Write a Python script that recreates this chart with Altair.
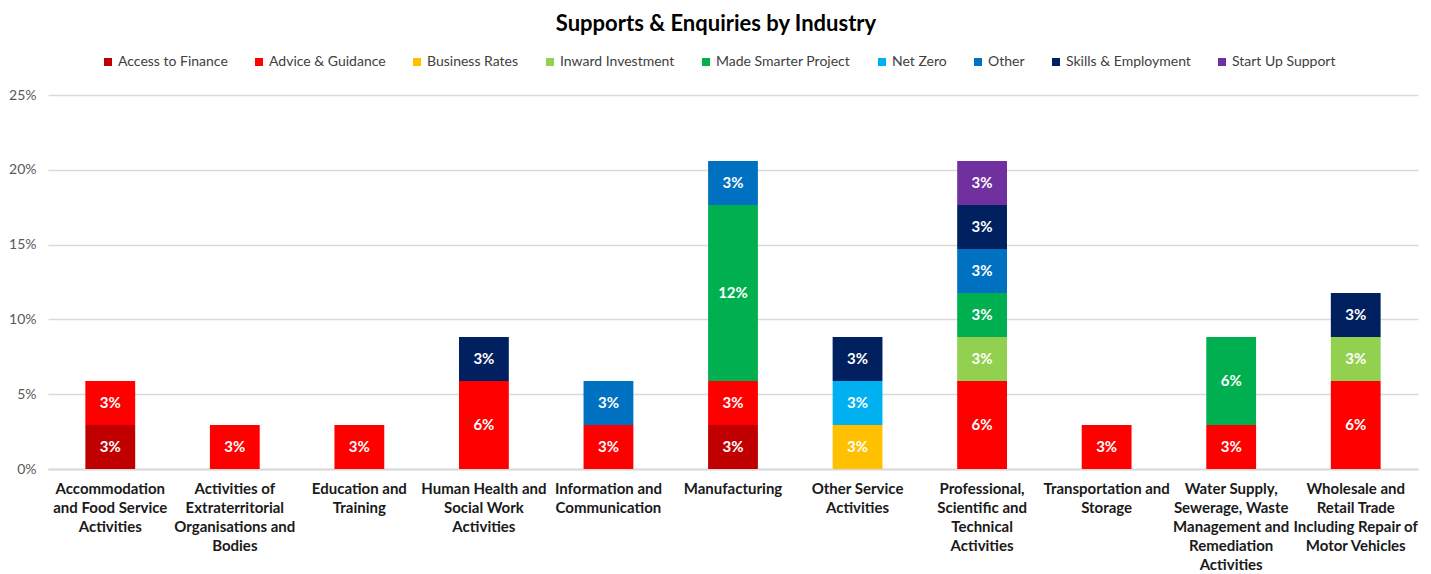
import altair as alt
import pandas as pd

CATEGORIES = [
    "Accommodation and Food Service Activities",
    "Activities of Extraterritorial Organisations and Bodies",
    "Education and Training",
    "Human Health and Social Work Activities",
    "Information and Communication",
    "Manufacturing",
    "Other Service Activities",
    "Professional, Scientific and Technical Activities",
    "Transportation and Storage",
    "Water Supply, Sewerage, Waste Management and Remediation Activities",
    "Wholesale and Retail Trade Including Repair of Motor Vehicles",
]
LABEL_LINES = [
    ["Accommodation", "and Food Service", "Activities"],
    ["Activities of", "Extraterritorial", "Organisations and", "Bodies"],
    ["Education and", "Training"],
    ["Human Health and", "Social Work", "Activities"],
    ["Information and", "Communication"],
    ["Manufacturing"],
    ["Other Service", "Activities"],
    ["Professional,", "Scientific and", "Technical", "Activities"],
    ["Transportation and", "Storage"],
    ["Water Supply,", "Sewerage, Waste", "Management and", "Remediation", "Activities"],
    ["Wholesale and", "Retail Trade", "Including Repair of", "Motor Vehicles"],
]
SERIES = [
    "Access to Finance", "Advice & Guidance", "Business Rates", "Inward Investment",
    "Made Smarter Project", "Net Zero", "Other", "Skills & Employment", "Start Up Support",
]
COLORS = ["#C00000", "#FF0000", "#FFC000", "#92D050", "#00B050",
          "#00B0F0", "#0070C0", "#002060", "#7030A0"]

# share of all supports (%) per category, one list per series
ACCESS_TO_FINANCE = [2.94, 0, 0, 0, 0, 2.94, 0, 0, 0, 0, 0]
ADVICE_GUIDANCE = [2.94, 2.94, 2.94, 5.88, 2.94, 2.94, 0, 5.88, 2.94, 2.94, 5.88]
BUSINESS_RATES = [0, 0, 0, 0, 0, 0, 2.94, 0, 0, 0, 0]
INWARD_INVESTMENT = [0, 0, 0, 0, 0, 0, 0, 2.94, 0, 0, 2.94]
MADE_SMARTER = [0, 0, 0, 0, 0, 11.76, 0, 2.94, 0, 5.88, 0]
NET_ZERO = [0, 0, 0, 0, 0, 0, 2.94, 0, 0, 0, 0]
OTHER = [0, 0, 0, 0, 2.94, 2.94, 0, 2.94, 0, 0, 0]
SKILLS_EMPLOYMENT = [0, 0, 0, 2.94, 0, 0, 2.94, 2.94, 0, 0, 2.94]
START_UP = [0, 0, 0, 0, 0, 0, 0, 2.94, 0, 0, 0]

SERIES_VALUES = [ACCESS_TO_FINANCE, ADVICE_GUIDANCE, BUSINESS_RATES, INWARD_INVESTMENT,
                 MADE_SMARTER, NET_ZERO, OTHER, SKILLS_EMPLOYMENT, START_UP]

Y_TICKS = [0, 0.05, 0.10, 0.15, 0.20, 0.25]

keys = ["|".join(lines) for lines in LABEL_LINES]
rows = []
for si, (s, vals) in enumerate(zip(SERIES, SERIES_VALUES)):
    for ci, v in enumerate(vals):
        if v > 0:
            rows.append({"cat": keys[ci], "series": s, "value": v / 100.0, "ord": si})
df = pd.DataFrame(rows)

FONT = "Lato"

base = alt.Chart(df).transform_stack(
    stack="value", groupby=["cat"], as_=["y0", "y1"],
    sort=[alt.SortField("ord", order="ascending")],
)

x_enc = alt.X(
    "cat:N", sort=keys, title=None,
    scale=alt.Scale(paddingInner=0.6, paddingOuter=0.3),
    axis=alt.Axis(
        labelExpr="split(datum.label, '|')", labelAngle=0, labelFontSize=15,
        labelFontWeight="bold", labelColor="#1a1a1a", labelLineHeight=19,
        labelPadding=12, labelLimit=300, labelOverlap=False, ticks=False,
        domainColor="#D9D9D9", domainWidth=2, labelFont=FONT,
    ),
)

bars = base.mark_bar().encode(
    x=x_enc,
    y=alt.Y("y0:Q", title=None,
            scale=alt.Scale(domain=[0, 0.25], nice=False),
            axis=alt.Axis(values=Y_TICKS, format=".0%", labelFontSize=14,
                          labelColor="#595959", labelPadding=12, ticks=False,
                          domain=False, gridColor="#D9D9D9", gridWidth=1.3,
                          labelFont=FONT)),
    y2="y1:Q",
    color=alt.Color("series:N", sort=SERIES,
                    scale=alt.Scale(domain=SERIES, range=COLORS),
                    legend=alt.Legend(
                        title=None, orient="none", legendX=53, legendY=-40,
                        direction="horizontal", columns=9, symbolType="square",
                        symbolSize=64, symbolStrokeWidth=0, labelFontSize=14,
                        labelColor="#404040", labelFont=FONT, columnPadding=24,
                        labelOffset=3)),
)

texts = base.transform_calculate(mid="(datum.y0 + datum.y1) / 2").mark_text(
    color="white", fontWeight="bold", fontSize=15, font=FONT, baseline="middle"
).encode(
    x=alt.X("cat:N", sort=keys),
    y="mid:Q",
    text=alt.Text("value:Q", format=".0%"),
)

chart = alt.layer(bars, texts).properties(
    width=1370, height=374,
    title=alt.TitleParams("Supports & Enquiries by Industry", fontSize=22,
                          font=FONT, fontWeight="bold", color="#000000",
                          anchor="middle", offset=19, dx=-17),
    padding={"left": 48, "top": 95, "right": 13, "bottom": 105},
    autosize=alt.AutoSizeParams(type="none"),
    background="white",
).configure_view(stroke=None)

chart.save("out.html", embed_options={"renderer": "svg", "actions": False})
